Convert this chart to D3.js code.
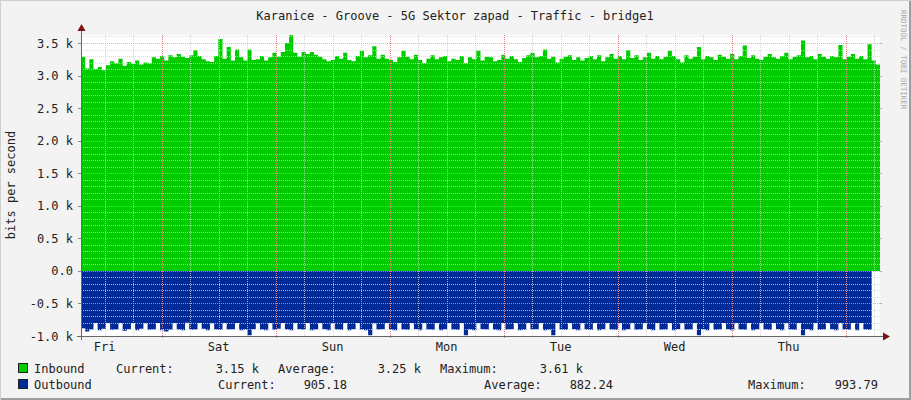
<!DOCTYPE html>
<html><head><meta charset="utf-8">
<script src="https://cdn.jsdelivr.net/npm/d3@7"></script>
<style>body{margin:0;background:#f3f3f3}svg{display:block}text{font-family:"DejaVu Sans Mono",monospace}</style>
</head><body><svg id="c" width="911" height="400"></svg>
<script>
const title = "Karanice - Groove - 5G Sektor zapad - Traffic - bridge1";
const dayLabels = ["Fri","Sat","Sun","Mon","Tue","Wed","Thu"];
const yTicks = [-1000,-500,0,500,1000,1500,2000,2500,3000,3500];
const yTickLabels = ["-1.0 k","-0.5 k","0.0","0.5 k","1.0 k","1.5 k","2.0 k","2.5 k","3.0 k","3.5 k"];
// inbound, bits/s, 200 samples across the week (~50 min each)
const inbound = [3290,3110,3250,3100,3130,3080,3160,3220,3190,3260,3150,3210,3180,3230,3170,3200,3190,3280,3260,3300,3230,3310,3280,3330,3290,3270,3310,3390,3300,3250,
3220,3210,3300,3560,3260,3440,3230,3400,3280,3230,3400,3240,3250,3300,3230,3280,3350,3290,3360,3500,3620,3350,3290,3360,3330,3360,3320,3290,3250,3220,
3240,3300,3260,3350,3240,3220,3300,3380,3280,3310,3450,3260,3320,3260,3240,3210,3280,3380,3290,3250,3320,3240,3190,3260,3310,3250,3280,3300,3220,3260,
3240,3300,3190,3280,3250,3380,3230,3290,3280,3220,3240,3320,3260,3300,3250,3210,3270,3310,3350,3280,3300,3400,3260,3290,3200,3260,3290,3310,3240,3280,
3230,3270,3300,3250,3310,3220,3280,3330,3260,3300,3250,3390,3270,3310,3240,3280,3350,3260,3300,3250,3290,3380,3300,3250,3200,3310,3260,3290,3440,3250,
3300,3280,3240,3320,3290,3260,3330,3250,3300,3460,3270,3310,3260,3240,3290,3330,3280,3260,3300,3350,3250,3290,3310,3540,3280,3300,3250,3330,3290,3260,
3300,3280,3470,3250,3290,3330,3260,3300,3250,3480,3230,3170];
// outbound, bits/s (drawn negative)
const outbound = [880,930,900,800,910,890,800,905,900,800,920,895,800,910,890,805,905,900,800,910,930,905,800,900,910,795,905,900,800,890,
910,805,900,905,800,900,895,800,910,900,990,895,805,900,910,800,905,890,800,900,910,800,895,905,800,910,900,800,895,910,
805,900,905,800,910,895,800,900,910,990,805,900,895,800,905,910,800,900,905,800,895,910,800,900,905,800,910,895,800,900,
905,800,990,900,910,800,895,900,800,905,910,800,900,895,800,910,905,800,900,895,800,910,905,990,800,900,905,800,895,910,
800,900,905,800,910,895,800,900,905,800,910,895,800,905,900,800,895,910,800,905,900,800,910,895,800,905,900,800,990,895,
910,800,905,900,800,895,910,800,900,905,800,910,895,800,900,905,800,895,910,800,900,905,800,990,895,910,800,905,900,800,
895,910,800,900,905,800,910,800,900,905];
const legendIn = {cur:"3.15 k", avg:"3.25 k", max:"3.61 k"};
const legendOut = {cur:"905.18", avg:"882.24", max:"993.79"};

const svg = d3.select("#c");
const L=81, R=880, T=35, B=336;
// border shading like rrdtool
svg.append("rect").attr("x",0).attr("y",0).attr("width",911).attr("height",400).attr("fill","#f3f3f3");
svg.append("rect").attr("x",909).attr("y",0).attr("width",2).attr("height",400).attr("fill","#9e9e9e");
svg.append("rect").attr("x",0).attr("y",398).attr("width",911).attr("height",2).attr("fill","#9e9e9e");
svg.append("rect").attr("x",0).attr("y",0).attr("width",911).attr("height",1).attr("fill","#cfcfcf");
svg.append("rect").attr("x",0).attr("y",0).attr("width",1).attr("height",400).attr("fill","#cfcfcf");

const y = d3.scaleLinear().domain([-1000,3500]).range([336,43]);
const x = d3.scaleLinear().domain([0,7*24]).range([L-1,L+797]); // hours; first midnight at hour ~17.2
const off = 17.2; // hours before first midnight
svg.append("rect").attr("x",L).attr("y",T).attr("width",R-L).attr("height",B-T).attr("fill","#fff");

const xs = d3.scaleLinear().domain([0,inbound.length]).range([L,R]);
const area = d3.area().curve(d3.curveStepAfter).x((d,i)=>xs(i)).y0(y(0));
const inPts = inbound.concat([inbound[inbound.length-1]]);
const outPts = outbound.concat([outbound[outbound.length-1]]);
svg.append("path").datum(inPts).attr("fill","#00cc00").attr("d",area.y1(d=>y(d)));
svg.append("path").datum(outPts).attr("fill","#002a97").attr("d",area.y1(d=>y(-d)));

const g = svg.append("g").attr("shape-rendering","crispEdges");
// minor horizontal grid
for(let v=-1000; v<=3600; v+=100){
  if(v%500===0) continue;
  g.append("line").attr("x1",L).attr("x2",R).attr("y1",Math.round(y(v))+.5).attr("y2",Math.round(y(v))+.5)
   .attr("stroke","#d8d8d8").attr("stroke-dasharray","1,1").attr("opacity",0.8);
}
// minor vertical grid every 6h
for(let h=off-12; h<=168; h+=6){
  if(h<0) continue;
  if(Math.abs((h-off)%24)<1e-6) continue;
  const xx=Math.round(x(h))+.5;
  g.append("line").attr("x1",xx).attr("x2",xx).attr("y1",T).attr("y2",B).attr("stroke","#d0d0d0").attr("stroke-dasharray","1,1").attr("opacity",0.8);
}
// major horizontal
yTicks.forEach(v=>{
  const yy=Math.round(y(v))+.5;
  g.append("line").attr("x1",L).attr("x2",R).attr("y1",yy).attr("y2",yy).attr("stroke","#e0a0a0").attr("stroke-dasharray","1,1").attr("opacity",0.8);
  g.append("line").attr("x1",L-3).attr("x2",L).attr("y1",yy).attr("y2",yy).attr("stroke","#888");
  g.append("line").attr("x1",R).attr("x2",R+2).attr("y1",yy).attr("y2",yy).attr("stroke","#e0a0a0");
});
// major vertical at midnights
for(let h=off; h<=168; h+=24){
  const xx=Math.round(x(h))+.5;
  g.append("line").attr("x1",xx).attr("x2",xx).attr("y1",T).attr("y2",B+3).attr("stroke","#e08080").attr("stroke-dasharray","1,1");
}
// axis lines
g.append("line").attr("x1",L+.5).attr("x2",L+.5).attr("y1",T-5).attr("y2",B+4).attr("stroke","#666");
g.append("line").attr("x1",L-4).attr("x2",R+4).attr("y1",B+.5).attr("y2",B+.5).attr("stroke","#666");
svg.append("path").attr("d",`M${L-3.5},${T-4}L${L+4.5},${T-4}L${L+.5},${T-11}Z`).attr("fill","#7a1010");
svg.append("path").attr("d",`M${R+3},${B-3.5}L${R+3},${B+4.5}L${R+10},${B+.5}Z`).attr("fill","#7a1010");

// y labels
yTicks.forEach((v,i)=>svg.append("text").attr("x",73).attr("y",y(v)+4.5).attr("text-anchor","end").attr("font-size",12).attr("fill","#222").text(yTickLabels[i]));
// day labels at noon
dayLabels.forEach((d,i)=>svg.append("text").attr("x",x(off-12+24*i)).attr("y",351).attr("text-anchor","middle").attr("font-size",12).attr("fill","#222").text(d));
svg.append("text").attr("x",455).attr("y",20).attr("text-anchor","middle").attr("font-size",12).attr("fill","#222").text(title);
svg.append("text").attr("transform","translate(15,185) rotate(-90)").attr("text-anchor","middle").attr("font-size",12).attr("fill","#222").text("bits per second");
svg.append("text").attr("transform","translate(901,10) rotate(90)").attr("font-size",7.5).attr("fill","#aaa").text("RRDTOOL / TOBI OETIKER");

// legend
const lg = svg.append("g").attr("font-size",12).attr("fill","#222");
lg.append("rect").attr("x",18.5).attr("y",363.5).attr("width",9).attr("height",9).attr("fill","#00cc00").attr("stroke","#222");
lg.append("rect").attr("x",18.5).attr("y",379.5).attr("width",9).attr("height",9).attr("fill","#002a97").attr("stroke","#222");
const t=(xx,yy,s,a)=>lg.append("text").attr("x",xx).attr("y",yy).attr("text-anchor",a||"start").text(s);
t(34,373,"Inbound"); t(116,373,"Current:"); t(259,373,legendIn.cur,"end");
t(278,373,"Average:"); t(421,373,legendIn.avg,"end"); t(440,373,"Maximum:"); t(583,373,legendIn.max,"end");
t(34,389,"Outbound"); t(218,389,"Current:"); t(347,389,legendOut.cur,"end");
t(484,389,"Average:"); t(613,389,legendOut.avg,"end"); t(748,389,"Maximum:"); t(878,389,legendOut.max,"end");
</script></body></html>
